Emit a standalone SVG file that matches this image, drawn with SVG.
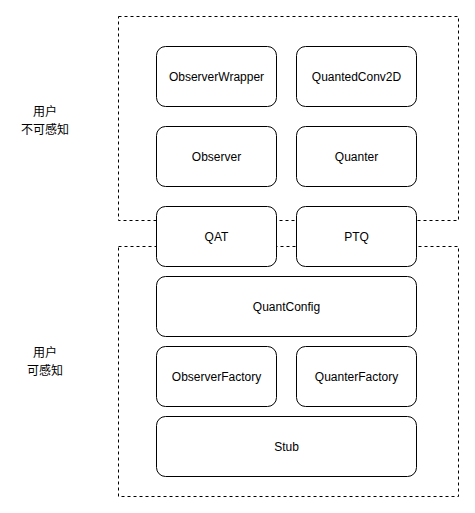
<svg xmlns="http://www.w3.org/2000/svg" width="475" height="513" viewBox="0 0 475 513">
<style>
.grp{fill:none;stroke:#000;stroke-width:1;stroke-dasharray:3 3}
.box{fill:#fff;stroke:#000;stroke-width:1}
.t{font-family:"Liberation Sans",Arial,sans-serif;font-size:12px;fill:#000;text-anchor:middle;dominant-baseline:central}
.c{font-family:"Liberation Sans","Noto Sans CJK SC",sans-serif;font-size:12px;fill:#000;text-anchor:middle}
</style>
<rect width="475" height="513" fill="#fff"/>
<g id="group-hidden"><rect class="grp" x="118.5" y="16.5" width="340" height="204"/></g>
<g id="group-visible"><rect class="grp" x="118.5" y="246.5" width="340" height="250"/></g>
<g id="label-hidden"><text class="c" x="45" y="116">用户</text><text class="c" x="45" y="134">不可感知</text></g>
<g id="label-visible"><text class="c" x="45" y="357">用户</text><text class="c" x="45" y="375">可感知</text></g>
<g id="ObserverWrapper"><rect class="box" x="156.5" y="46.5" width="120" height="60" rx="9"/><text class="t" x="216.5" y="76.5">ObserverWrapper</text></g>
<g id="QuantedConv2D"><rect class="box" x="296.5" y="46.5" width="120" height="60" rx="9"/><text class="t" x="356.5" y="76.5">QuantedConv2D</text></g>
<g id="Observer"><rect class="box" x="156.5" y="126.5" width="120" height="60" rx="9"/><text class="t" x="216.5" y="156.5">Observer</text></g>
<g id="Quanter"><rect class="box" x="296.5" y="126.5" width="120" height="60" rx="9"/><text class="t" x="356.5" y="156.5">Quanter</text></g>
<g id="QAT"><rect class="box" x="156.5" y="206.5" width="120" height="60" rx="9"/><text class="t" x="216.5" y="236.5">QAT</text></g>
<g id="PTQ"><rect class="box" x="296.5" y="206.5" width="120" height="60" rx="9"/><text class="t" x="356.5" y="236.5">PTQ</text></g>
<g id="QuantConfig"><rect class="box" x="156.5" y="276.5" width="260" height="60" rx="9"/><text class="t" x="286.5" y="306.5">QuantConfig</text></g>
<g id="ObserverFactory"><rect class="box" x="156.5" y="346.5" width="120" height="60" rx="9"/><text class="t" x="216.5" y="376.5">ObserverFactory</text></g>
<g id="QuanterFactory"><rect class="box" x="296.5" y="346.5" width="120" height="60" rx="9"/><text class="t" x="356.5" y="376.5">QuanterFactory</text></g>
<g id="Stub"><rect class="box" x="156.5" y="416.5" width="260" height="60" rx="9"/><text class="t" x="286.5" y="446.5">Stub</text></g>
<g id="connectors"></g>
</svg>
